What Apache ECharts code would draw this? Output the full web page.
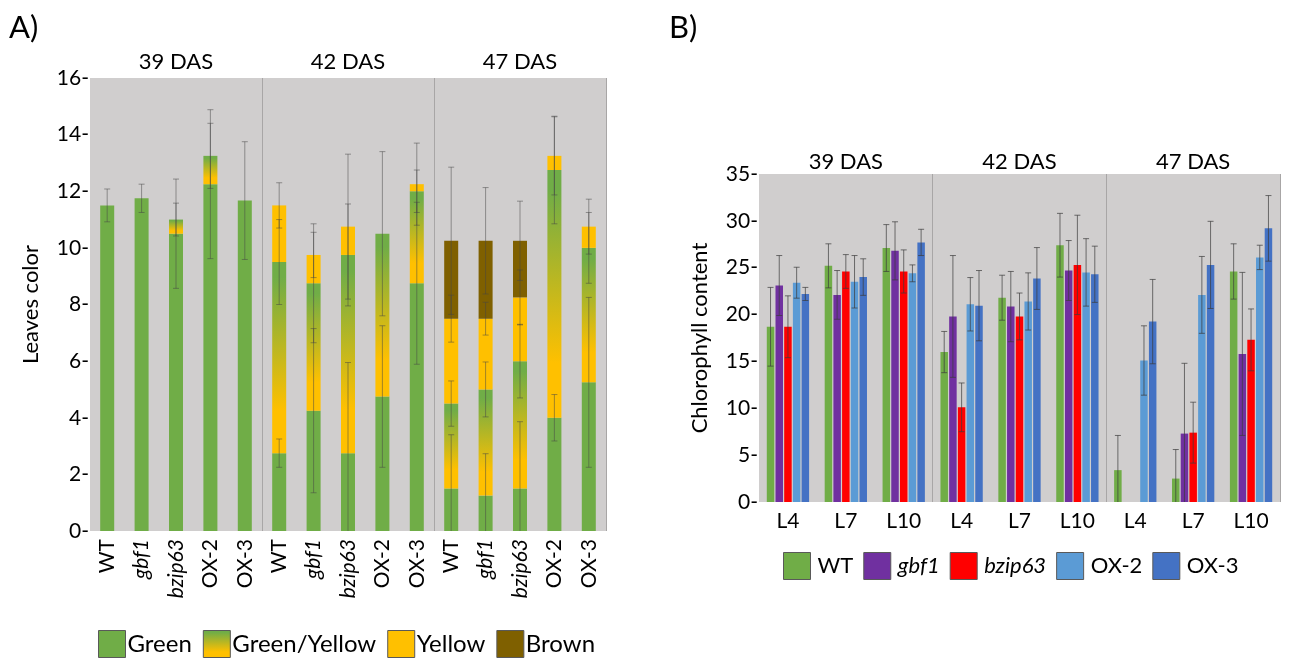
<!DOCTYPE html>
<html><head><meta charset="utf-8">
<script src="https://cdn.jsdelivr.net/npm/echarts@6/dist/echarts.min.js"></script>
<style>html,body{margin:0;padding:0;background:#fff}#c{width:1293px;height:661px}</style>
</head><body><div id="c"></div>
<script>
// ---------- Panel A data ----------
const catsA = ['WT','gbf1','bzip63','OX-2','OX-3','WT','gbf1','bzip63','OX-2','OX-3','WT','gbf1','bzip63','OX-2','OX-3'];
const groupsA = ['39 DAS','42 DAS','47 DAS'];
const greenA  = [11.5,11.75,10.5,12.25,11.67, 2.75,4.25,2.75,4.75,8.75, 1.5,1.25,1.5,4.0,5.25];
const gyA     = [0,0,0.5,1.0,0, 6.75,4.5,7.0,5.75,3.25, 3.0,3.75,4.5,8.75,4.75];
const yellowA = [0,0,0,0,0, 2.0,1.0,1.0,0,0.25, 3.0,2.5,2.25,0.5,0.75];
const brownA  = [0,0,0,0,0, 0,0,0,0,0, 2.75,2.75,2.0,0,0];
const greenErrA  = [0.58,0.5,1.93,2.63,2.08, 0.5,2.9,3.2,2.5,2.86, 1.9,1.48,2.36,0.82,3.0];
const gyErrA     = [0,0,0.58,1.15,0, 1.5,2.1,1.8,2.9,0.75, 0.8,0.97,1.3,1.9,1.25];
const yellowErrA = [0,0,0,0,0, 0.8,0.8,2.56,0,1.45, 0.83,0.58,0.97,1.38,0.97];
const brownErrA  = [0,0,0,0,0, 0,0,0,0,0, 2.6,1.88,1.4,0,0];
const yTicksA = {min:0, max:16, interval:2};

// ---------- Panel B data ----------
const catsB = ['L4','L7','L10','L4','L7','L10','L4','L7','L10'];
const groupsB = ['39 DAS','42 DAS','47 DAS'];
const seriesNamesB = ['WT','gbf1','bzip63','OX-2','OX-3'];
const wtB    = [18.7,25.2,27.1, 16.0,21.8,27.4, 3.4,2.5,24.6];
const gbf1B  = [23.1,22.1,26.8, 19.8,20.85,24.7, 0,7.3,15.8];
const bzipB  = [18.7,24.6,24.6, 10.1,19.8,25.3, 0,7.4,17.3];
const ox2B   = [23.4,23.5,24.4, 21.1,21.4,24.5, 15.1,22.1,26.1];
const ox3B   = [22.2,24.0,27.7, 20.95,23.85,24.3, 19.25,25.3,29.2];
const wtErrB   = [4.2,2.35,2.5, 2.2,2.4,3.4, 3.7,3.1,2.95];
const gbf1ErrB = [3.2,2.6,3.1, 6.5,3.75,3.2, 0,7.5,8.7];
const bzipErrB = [3.3,1.8,2.3, 2.6,2.5,5.3, 0,3.25,3.3];
const ox2ErrB  = [1.65,2.8,0.9, 2.85,3.05,3.6, 3.7,4.1,1.3];
const ox3ErrB  = [0.7,1.95,1.4, 3.75,3.3,3.0, 4.5,4.65,3.5];
const yTicksB = {min:0, max:35, interval:5};

// ---------- styling ----------
const FONT = 'Lato';
const italicNames = new Set(['gbf1','bzip63']);
const C = {green:'#70ad47', yellow:'#ffc000', brown:'#7f6000',
  wt:'#70ad47', gbf1:'#7030a0', bzip:'#ff0000', ox2:'#5b9bd5', ox3:'#4472c4'};
const gyGrad = new echarts.graphic.LinearGradient(0,0,0,1,[
  {offset:0,color:C.green},{offset:0.08,color:C.green},{offset:0.78,color:C.yellow},{offset:1,color:C.yellow}]);
const richTxt = {
  n:{fontFamily:FONT, fontSize:21, color:'#000'},
  i:{fontFamily:FONT, fontSize:21, color:'#000', fontStyle:'italic'}
};
const fmtItal = v => italicNames.has(v) ? '{i|'+v+'}' : '{n|'+v+'}';

// cumulative tops for error bars in A
const errDataA = [];
for (let i=0;i<catsA.length;i++){
  let cum = 0;
  [[greenA,greenErrA],[gyA,gyErrA],[yellowA,yellowErrA],[brownA,brownErrA]].forEach(([v,e])=>{
    cum += v[i];
    if (v[i] > 0 && e[i] > 0) errDataA.push([i, cum, e[i]]);
  });
}
const valsB = [wtB,gbf1B,bzipB,ox2B,ox3B];
const errsB = [wtErrB,gbf1ErrB,bzipErrB,ox2ErrB,ox3ErrB];
const colorsB = [C.wt,C.gbf1,C.bzip,C.ox2,C.ox3];
const errDataB = [];
valsB.forEach((v,s)=>v.forEach((val,i)=>{ if (errsB[s][i]>0) errDataB.push([i,val,errsB[s][i],s]); }));

const BW_B = 7.5, GAP_B = 1.2;

function errRender(offsetFn, color){
  return function(params, api){
    const x = api.value(0), c = api.value(1), e = api.value(2);
    const off = offsetFn(api);
    const lowV = Math.max(0, c - e);
    const top = api.coord([x, c + e]);
    const bot = api.coord([x, lowV]);
    const px = top[0] + off;
    const hw = 3;
    const st = {stroke: color, lineWidth: 1};
    const kids = [
      {type:'line', shape:{x1:px,y1:top[1],x2:px,y2:bot[1]}, style:st},
      {type:'line', shape:{x1:px-hw,y1:top[1],x2:px+hw,y2:top[1]}, style:st}
    ];
    if (c - e > 0) kids.push({type:'line', shape:{x1:px-hw,y1:bot[1],x2:px+hw,y2:bot[1]}, style:st});
    return {type:'group', children:kids};
  };
}

const topAxis = (gi, data, margin) => ({
  type:'category', gridIndex:gi, position:'top', data:data,
  axisLine:{show:false}, axisTick:{show:false},
  axisLabel:{fontFamily:FONT, fontSize:22, color:'#000', margin:margin},
  splitLine:{show:true, interval:(i)=> i===1 || i===2, lineStyle:{color:'#a8a6a6', width:1}}
});

const yAxisCommon = (gi, t, name) => ({
  type:'value', gridIndex:gi, min:t.min, max:t.max, interval:t.interval,
  name:name, nameLocation:'middle', nameGap:48,
  nameTextStyle:{fontFamily:FONT, fontSize:22, color:'#000'},
  axisLine:{show:false}, axisTick:{show:false}, splitLine:{show:false},
  axisLabel:{fontFamily:FONT, fontSize:21, color:'#000', margin:1, formatter:'{value}-'}
});

const chart = echarts.init(document.getElementById('c'), null, {renderer:'canvas'});
const option = {
  animation:false,
  textStyle:{fontFamily:FONT},
  graphic:[
    {type:'text', left:9, top:12, style:{text:'A)', fontFamily:FONT, fontSize:31, fill:'#000'}},
    {type:'text', left:669, top:12, style:{text:'B)', fontFamily:FONT, fontSize:31, fill:'#000'}}
  ],
  grid:[
    {left:90, top:78, width:516, height:453, show:true, backgroundColor:'#d0cece', borderWidth:0},
    {left:759, top:174, width:521, height:328, show:true, backgroundColor:'#d0cece', borderWidth:0}
  ],
  xAxis:[
    {type:'category', gridIndex:0, data:catsA, axisLine:{show:false}, axisTick:{show:false},
     axisLabel:{rotate:90, margin:8, formatter:fmtItal, rich:richTxt, interval:0}},
    topAxis(0, groupsA, 5),
    {type:'category', gridIndex:1, data:catsB, axisLine:{show:false}, axisTick:{show:false},
     axisLabel:{margin:9, fontFamily:FONT, fontSize:21, color:'#000', interval:0}},
    topAxis(1, groupsB, 1)
  ],
  yAxis:[
    yAxisCommon(0, yTicksA, 'Leaves color'),
    yAxisCommon(1, yTicksB, 'Chlorophyll content')
  ],
  legend:[
    {left:98, top:630, padding:0, icon:'rect', itemWidth:27, itemHeight:27, itemGap:11,
     data:['Green','Green/Yellow','Yellow','Brown'],
     textStyle:{fontFamily:FONT, fontSize:24, color:'#000', padding:[0,0,0,-3]},
     itemStyle:{borderColor:'#595959', borderWidth:1}},
    {left:783, top:552, padding:0, icon:'rect', itemWidth:27, itemHeight:27, itemGap:10,
     data:seriesNamesB,
     formatter: fmtItal,
     textStyle:{fontFamily:FONT, fontSize:22, color:'#000', padding:[0,0,0,2],
       rich:{n:{fontFamily:FONT,fontSize:22,color:'#000'}, i:{fontFamily:FONT,fontSize:22,color:'#000',fontStyle:'italic'}}},
     itemStyle:{borderColor:'#595959', borderWidth:1}}
  ],
  series:[
    {name:'Green', type:'bar', stack:'a', xAxisIndex:0, yAxisIndex:0, barWidth:14, data:greenA, itemStyle:{color:C.green}},
    {name:'Green/Yellow', type:'bar', stack:'a', xAxisIndex:0, yAxisIndex:0, barWidth:14, data:gyA, itemStyle:{color:gyGrad}},
    {name:'Yellow', type:'bar', stack:'a', xAxisIndex:0, yAxisIndex:0, barWidth:14, data:yellowA, itemStyle:{color:C.yellow}},
    {name:'Brown', type:'bar', stack:'a', xAxisIndex:0, yAxisIndex:0, barWidth:14, data:brownA, itemStyle:{color:C.brown}},
    {type:'custom', xAxisIndex:0, yAxisIndex:0, data:errDataA, z:10,
     renderItem: errRender(()=>0, 'rgba(70,70,70,0.5)')},
    ...seriesNamesB.map((n,s)=>({name:n, type:'bar', xAxisIndex:2, yAxisIndex:1, barWidth:BW_B, barGap:'16%',
      data:valsB[s], itemStyle:{color:colorsB[s]}})),
    {type:'custom', xAxisIndex:2, yAxisIndex:1, data:errDataB, z:10,
     renderItem: function(params, api){
       const s = api.value(3);
       return errRender(()=> (s-2)*(BW_B+GAP_B), 'rgba(60,60,60,0.7)')(params, api);
     }}
  ]
};
chart.setOption(option);
</script></body></html>
